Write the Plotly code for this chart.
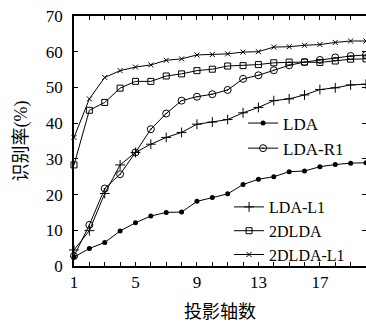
import plotly.graph_objects as go

# Number of projection axes
axes_n = list(range(1, 21))

# Recognition rate (%) for each method
lda = [2.5, 4.9, 6.6, 9.8, 12.1, 14.0, 15.0, 15.1, 18.1, 19.2,
       20.2, 22.8, 24.3, 25.0, 26.4, 26.6, 27.8, 28.4, 28.8, 28.9]
lda_r1 = [2.8, 11.5, 21.7, 25.7, 31.8, 38.3, 42.7, 46.3, 47.4, 48.1,
          49.3, 52.4, 53.4, 54.8, 56.2, 57.1, 57.7, 58.4, 58.8, 59.1]
lda_l1 = [4.5, 9.9, 20.3, 28.3, 31.8, 34.1, 36.0, 37.4, 39.7, 40.3,
          41.0, 42.9, 44.4, 46.3, 46.8, 47.9, 49.4, 49.9, 50.7, 50.9]
dlda2 = [28.3, 43.6, 45.8, 49.8, 51.7, 51.7, 53.2, 53.8, 54.7, 55.1,
         56.0, 56.1, 56.4, 56.9, 57.1, 57.1, 57.0, 57.4, 57.9, 58.0]
dlda2_l1 = [36.0, 46.8, 52.8, 54.7, 55.7, 56.3, 57.6, 58.0, 59.1, 59.2,
            59.4, 59.9, 60.0, 61.3, 61.4, 61.8, 62.0, 62.6, 63.0, 63.0]

x_tick_vals = list(range(1, 21))
x_tick_text = ["1", "", "", "", "5", "", "", "", "9", "", "", "",
               "13", "", "", "", "17", "", "", ""]
y_tick_vals = [0, 10, 20, 30, 40, 50, 60, 70]

FONT = "Liberation Serif, Noto Sans CJK SC, serif"

series = [
    ("LDA", lda, dict(symbol="circle", size=5, color="black"), "legend"),
    ("LDA-R1", lda_r1, dict(symbol="circle-open-dot", size=7, color="black",
                            line=dict(width=1)), "legend"),
    ("LDA-L1", lda_l1, dict(symbol="cross-thin", size=7, color="black",
                            line=dict(width=1, color="black")), "legend2"),
    ("2DLDA", dlda2, dict(symbol="square-open", size=6, color="black",
                          line=dict(width=1)), "legend2"),
    ("2DLDA-L1", dlda2_l1, dict(symbol="x-thin", size=5, color="black",
                                line=dict(width=1, color="black")), "legend2"),
]

fig = go.Figure()
for name, vals, marker, lg in series:
    fig.add_trace(go.Scatter(
        x=axes_n, y=vals, name=name, mode="lines+markers",
        line=dict(color="black", width=1), marker=marker,
        legend=lg, cliponaxis=False,
    ))

fig.update_layout(
    width=366, height=322,
    margin=dict(l=74, r=0, t=16, b=56),
    paper_bgcolor="white", plot_bgcolor="white",
    font=dict(family=FONT, size=17, color="black"),
    showlegend=True,
    legend=dict(x=0.579, y=0.642, xanchor="left", yanchor="top",
                bgcolor="rgba(0,0,0,0)", font=dict(size=17),
                itemwidth=30, tracegroupgap=0),
    legend2=dict(x=0.531, y=0.304, xanchor="left", yanchor="top",
                 bgcolor="rgba(0,0,0,0)", font=dict(size=16),
                 itemwidth=30, tracegroupgap=0),
    xaxis=dict(
        range=[1, 20], tickvals=x_tick_vals, ticktext=x_tick_text,
        ticks="inside", ticklen=4, tickcolor="black", mirror="ticks",
        showline=True, linecolor="black", linewidth=1.5,
        showgrid=False, zeroline=False, automargin=False,
        title=dict(text="投影轴数", font=dict(size=18), standoff=22),
    ),
    yaxis=dict(
        range=[0, 70], tickvals=y_tick_vals,
        ticks="inside", ticklen=4, tickcolor="black", mirror="ticks",
        showline=True, linecolor="black", linewidth=1.5,
        showgrid=False, zeroline=False, ticklabelstandoff=6,
        automargin=False,
        title=dict(text="识别率(%)", font=dict(size=18), standoff=14),
    ),
)

fig.write_html("out.html")
